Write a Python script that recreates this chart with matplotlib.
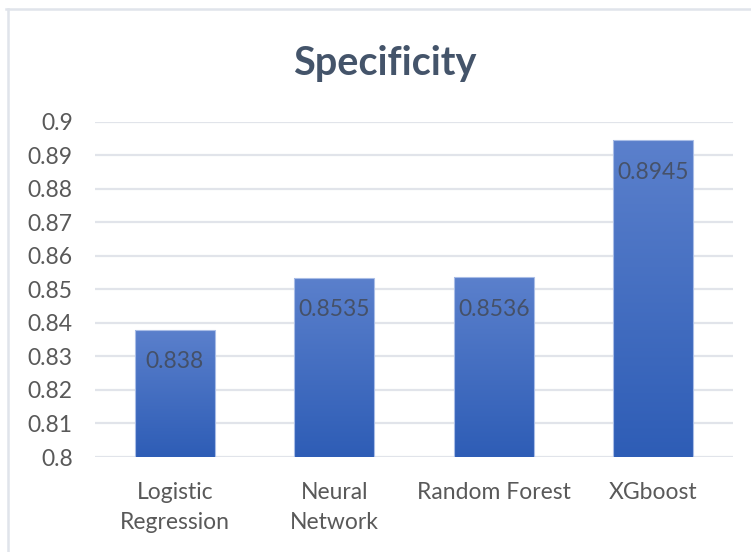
import numpy as np
import matplotlib.pyplot as plt
from matplotlib.lines import Line2D

plt.rcParams['font.family'] = ['Lato', 'DejaVu Sans']

models = ['Logistic\nRegression', 'Neural\nNetwork', 'Random Forest', 'XGboost']
specificity = [0.838, 0.8535, 0.8536, 0.8945]
yticks = [0.8, 0.81, 0.82, 0.83, 0.84, 0.85, 0.86, 0.87, 0.88, 0.89, 0.9]

fig = plt.figure(figsize=(7.51, 5.52), dpi=100)
ax = fig.add_axes([0.1265, 0.1721, 0.8495, 0.6069])

x = np.arange(len(models))
bars = ax.bar(x, specificity, width=0.5, color='none',
              edgecolor='#A9BDE6', linewidth=0.8, zorder=3)

# vertical gradient fill, lighter on top
grad = np.linspace(0, 1, 256).reshape(-1, 1)
cmap = plt.matplotlib.colors.LinearSegmentedColormap.from_list(
    'bar', ['#2E5DB6', '#5B80CC'])
for b in bars:
    x0, w, h = b.get_x(), b.get_width(), b.get_height()
    im = ax.imshow(grad, cmap=cmap, origin='lower', aspect='auto',
                   extent=[x0, x0 + w, 0.8, h], zorder=2)
    im.set_clip_path(b)

for xi, v in zip(x, specificity):
    ax.annotate(f'{v:g}', (xi, v), xytext=(0, -23), textcoords='offset points',
                ha='center', va='center', fontsize=16.5, color='#404040',
                alpha=0.7, zorder=4)

ax.set_xlim(-0.5, len(models) - 0.5)
ax.set_ylim(0.8, 0.9)
ax.set_yticks(yticks)
ax.set_yticklabels([f'{t:g}' for t in yticks])
ax.set_xticks(x)
ax.set_xticklabels(models, linespacing=1.55)
ax.tick_params(axis='y', length=0, pad=16, labelsize=16.5, labelcolor='#595959')
ax.tick_params(axis='x', length=0, pad=18, labelsize=16.5, labelcolor='#595959')
ax.grid(axis='y', color='#E1E4EA', linewidth=1.6, zorder=0)
ax.set_axisbelow(True)
for s in ax.spines.values():
    s.set_visible(False)

fig.text(385 / 751, 1 - 63 / 552, 'Specificity', ha='center', va='center',
         fontsize=28.5, fontweight='bold', color='#44546A')

# chart frame
fig.add_artist(Line2D([6 / 751, 1], [1 - 9 / 552] * 2, color='#E0E4EB', lw=1.8))
fig.add_artist(Line2D([8 / 751] * 2, [0, 1 - 9 / 552], color='#E0E4EB', lw=1.8))

fig.savefig('out.png', dpi=100)
